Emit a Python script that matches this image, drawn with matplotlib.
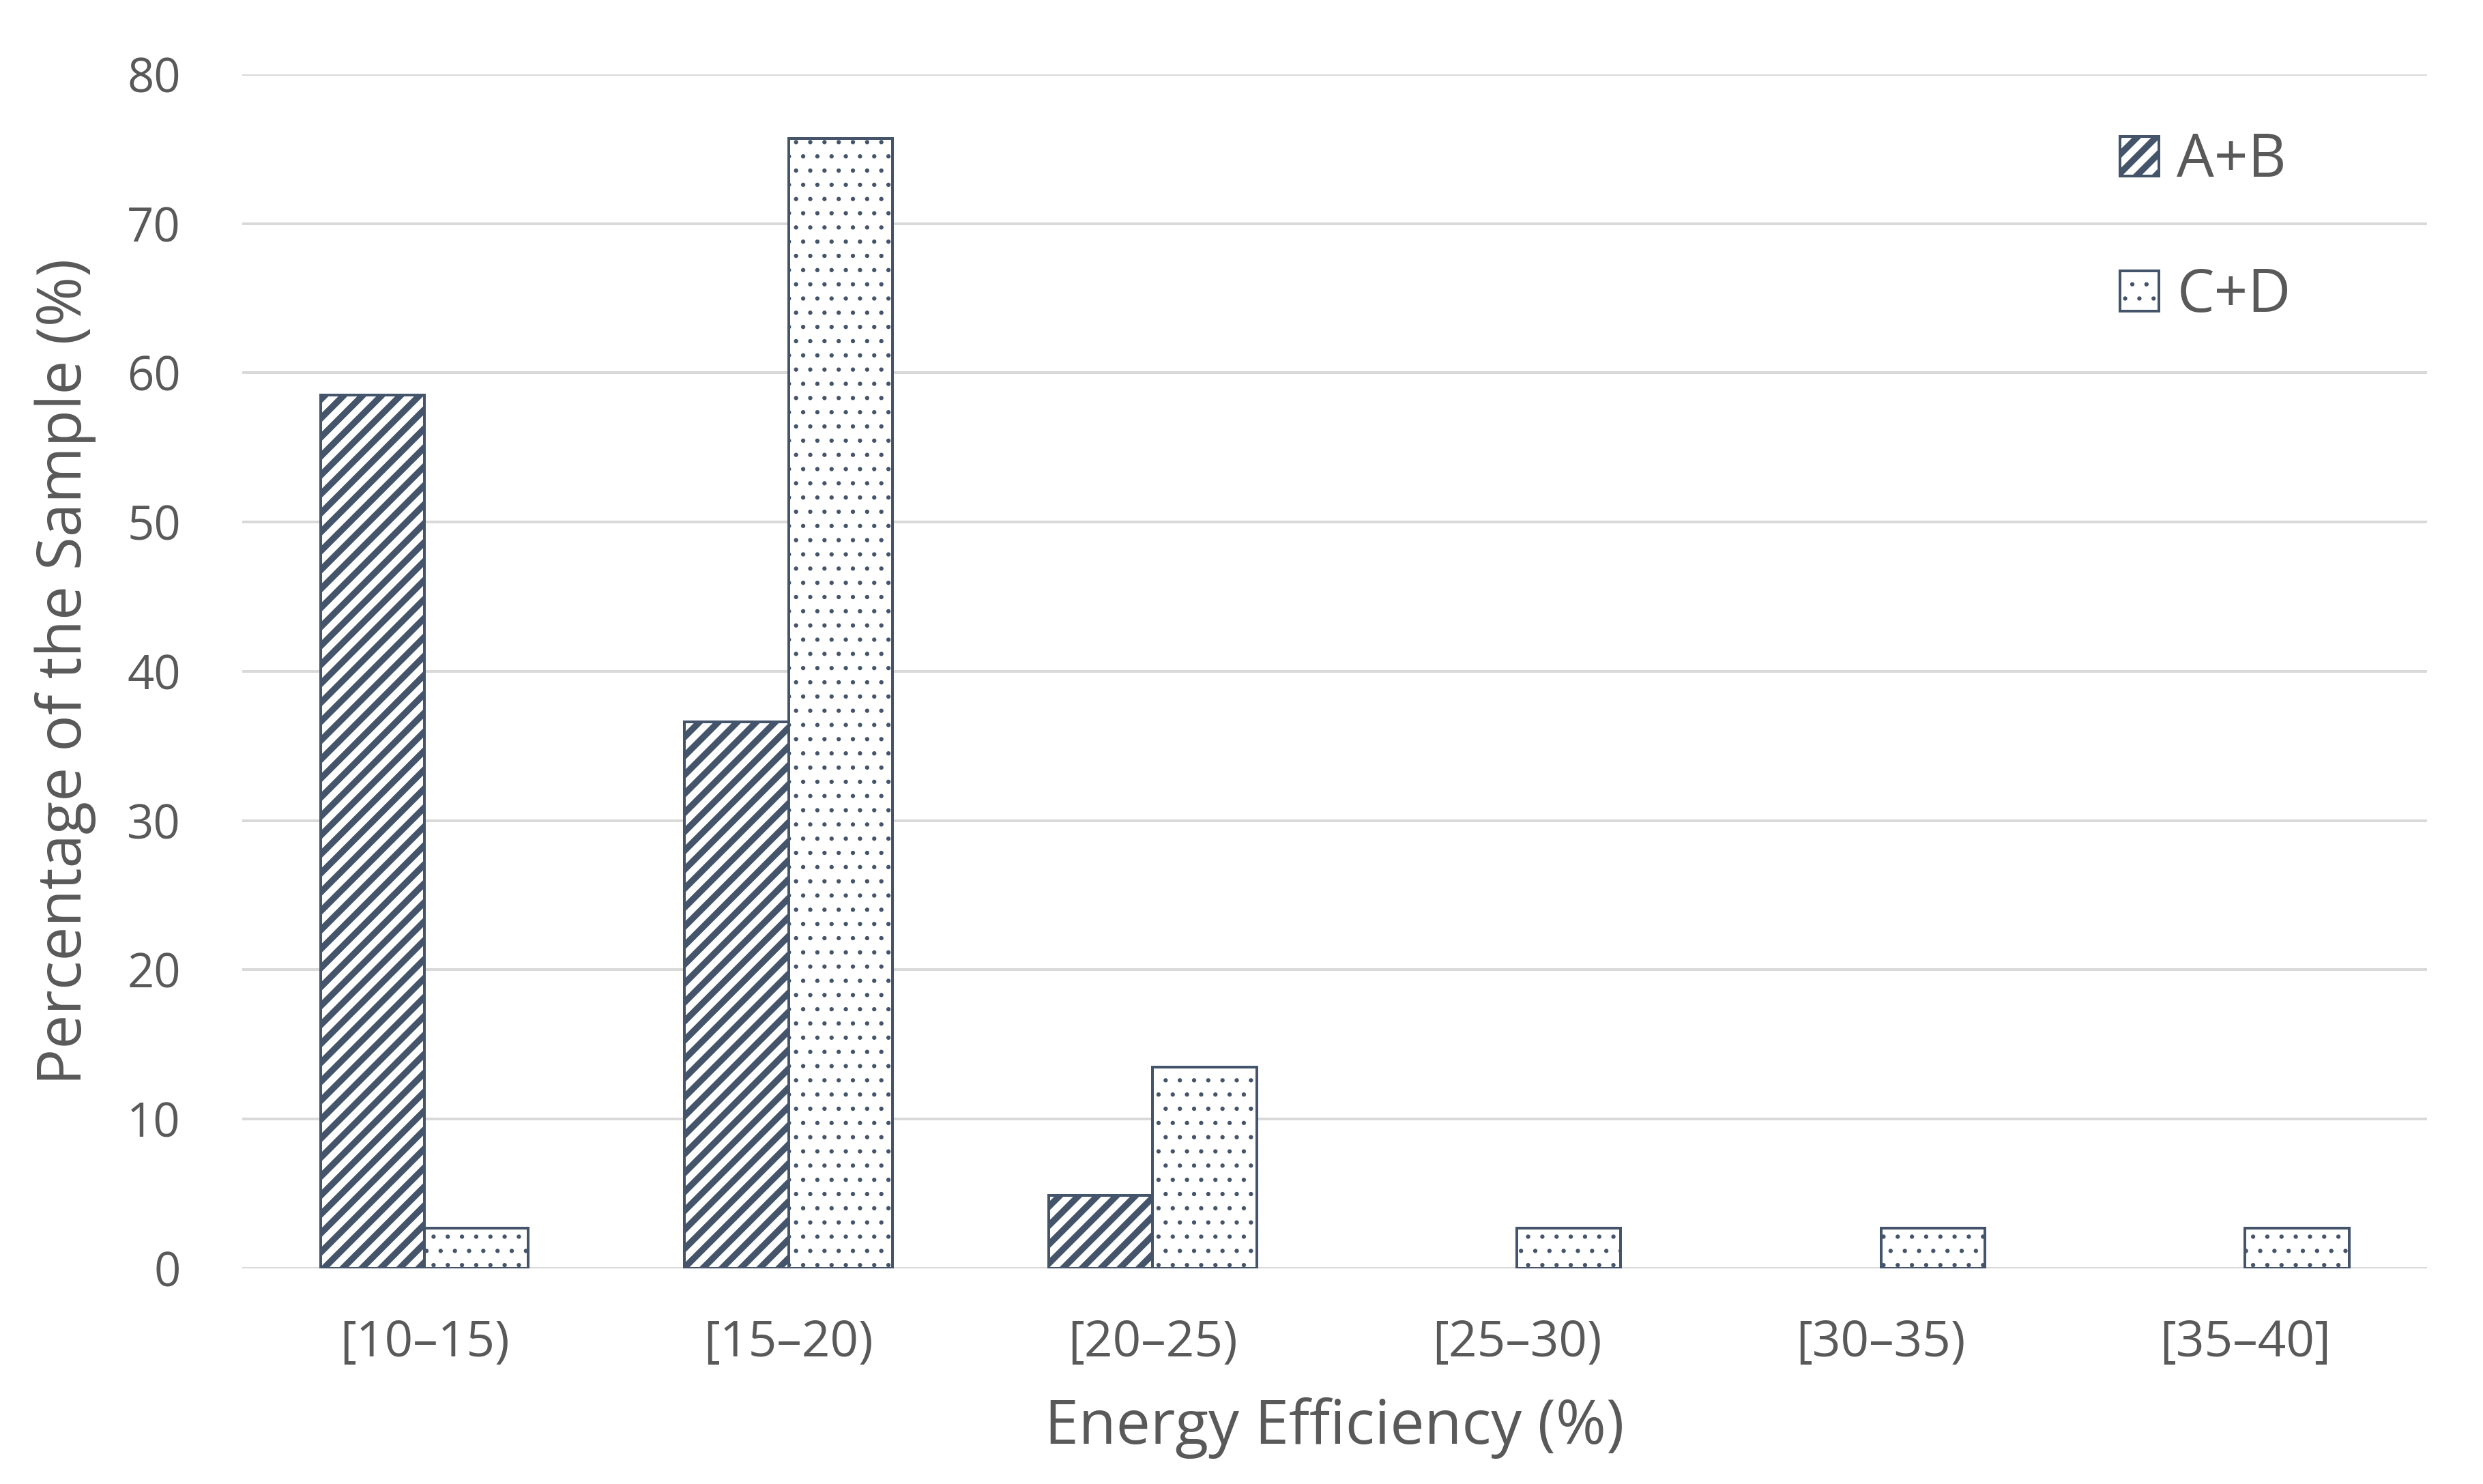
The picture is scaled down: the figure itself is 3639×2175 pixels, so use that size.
import numpy as np
import matplotlib
matplotlib.use("Agg")
from matplotlib import pyplot as plt

categories = ["[10\u201315)", "[15\u201320)", "[20\u201325)", "[25\u201330)", "[30\u201335)", "[35\u201340]"]
ab_values = [58.5, 36.6, 4.9, 0, 0, 0]
cd_values = [2.7, 75.7, 13.5, 2.7, 2.7, 2.7]
series_names = ["A+B", "C+D"]

DARK = "#44546A"
TEXT = "#595959"
GRID = "#D9D9D9"


def set_hatch_lw(bars, lw):
    for p in bars:
        if hasattr(p, "set_hatch_linewidth"):
            p.set_hatch_linewidth(lw)


def main():
    plt.rcParams["font.family"] = ["Open Sans", "DejaVu Sans"]

    fig = plt.figure(figsize=(14.556, 8.7), dpi=250)
    ax = fig.add_axes([0.0976, 0.1453, 0.8799, 0.8046])

    x = np.arange(len(categories))
    w = 1 / 3.5

    plt.rcParams["hatch.linewidth"] = 2.7
    bars_ab = ax.bar(x - w / 2, ab_values, w, facecolor="white", edgecolor=DARK,
                     hatch="///", linewidth=1.15, zorder=3)
    set_hatch_lw(bars_ab, 2.7)

    plt.rcParams["hatch.linewidth"] = 0.6
    bars_cd = ax.bar(x + w / 2, cd_values, w, facecolor="white", edgecolor=DARK,
                     hatch="..", linewidth=1.15, zorder=3)
    set_hatch_lw(bars_cd, 0.6)

    # zero-height bars should not draw anything
    for p, v in zip(bars_ab, ab_values):
        if v == 0:
            p.set_visible(False)

    ax.set_xlim(-0.5, len(categories) - 0.5)
    ax.set_ylim(0, 80)
    ax.set_yticks(np.arange(0, 81, 10))
    ax.set_xticks(x)
    ax.set_xticklabels(categories)

    for s in ax.spines.values():
        s.set_visible(False)
    ax.yaxis.grid(True, color=GRID, linewidth=1.15, zorder=0)
    ax.set_axisbelow(True)
    ax.tick_params(axis="both", length=0, labelcolor=TEXT)
    ax.tick_params(axis="y", pad=26, labelsize=19.8)
    ax.tick_params(axis="x", pad=21, labelsize=21)

    ax.set_xlabel("Energy Efficiency (%)", fontsize=25.8, color=TEXT, labelpad=12)
    ax.set_ylabel("Percentage of the Sample (%)", fontsize=25.6, color=TEXT, labelpad=13)

    handles = [bars_ab[0], bars_cd[1]]
    leg = ax.legend(handles, series_names, loc="upper left", bbox_to_anchor=(0.835, 0.997),
                    frameon=False, fontsize=25, labelcolor=TEXT, handlelength=0.66,
                    handleheight=0.66, handletextpad=0.3, labelspacing=1.26)
    set_hatch_lw(leg.legend_handles[:1], 2.7)
    set_hatch_lw(leg.legend_handles[1:], 0.6)

    fig.savefig("out.png", dpi=250, facecolor="white")


if __name__ == "__main__":
    main()
